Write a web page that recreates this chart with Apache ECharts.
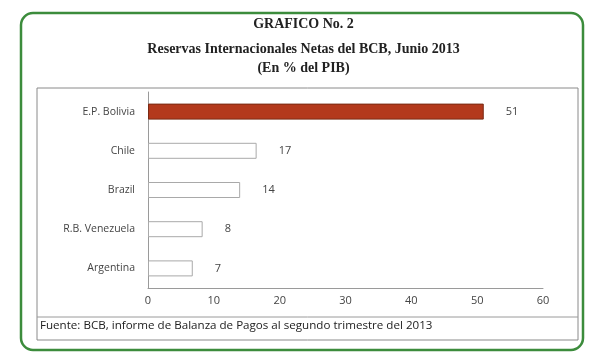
<!DOCTYPE html>
<html>
<head>
<meta charset="utf-8">
<script src="https://cdn.jsdelivr.net/npm/echarts@6/dist/echarts.min.js"></script>
<style>
  html, body { margin: 0; padding: 0; background: #fff; }
  #main { width: 607px; height: 355px; }
</style>
</head>
<body>
<div id="main"></div>
<script>
// datos
var paises = ['Argentina', 'R.B. Venezuela', 'Brazil', 'Chile', 'E.P. Bolivia'];
var reservas = [6.8, 8.3, 14, 16.5, 51];
var etiquetas = ['7', '8', '14', '17', '51'];
var ticksX = [0, 10, 20, 30, 40, 50, 60];

var chart = echarts.init(document.getElementById('main'));

var barras = reservas.map(function (v, i) {
  var esBolivia = paises[i] === 'E.P. Bolivia';
  return {
    value: v,
    itemStyle: esBolivia
      ? { color: '#b3391c', borderColor: '#7a2a14', borderWidth: 1 }
      : { color: '#ffffff', borderColor: '#a9a9a9', borderWidth: 1 }
  };
});

var tituloStyle = {
  fontFamily: 'Liberation Serif',
  fontWeight: 'bold',
  fontSize: 14,
  color: '#222'
};

var option = {
  backgroundColor: '#fff',
  title: [
    { text: 'GRAFICO No. 2', left: 'center', top: 12, textStyle: tituloStyle },
    { text: 'Reservas Internacionales Netas del BCB, Junio 2013', left: 'center', top: 37, textStyle: tituloStyle },
    { text: '(En % del PIB)', left: 'center', top: 56, textStyle: tituloStyle }
  ],
  grid: { left: 148, right: 64, top: 92, bottom: 67, containLabel: false },
  xAxis: {
    type: 'value',
    min: 0,
    max: 60,
    interval: 10,
    axisLine: { show: true, lineStyle: { color: '#9a9a9a' } },
    axisTick: { show: false },
    splitLine: { show: false },
    axisLabel: {
      color: '#444',
      fontFamily: 'Open Sans',
      fontSize: 11,
      margin: 7,
      formatter: function (v) { return ticksX.indexOf(v) >= 0 ? String(v) : ''; }
    }
  },
  yAxis: {
    type: 'category',
    data: paises,
    axisLine: { show: true, lineStyle: { color: '#9a9a9a' } },
    axisTick: { show: false },
    axisLabel: {
      color: '#444',
      fontFamily: 'Open Sans',
      fontSize: 10.5,
      margin: 13
    }
  },
  series: [{
    type: 'bar',
    data: barras,
    barWidth: 16,
    label: {
      show: true,
      position: 'right',
      distance: 22,
      color: '#444',
      fontFamily: 'Open Sans',
      fontSize: 11,
      formatter: function (p) { return etiquetas[p.dataIndex]; }
    }
  }],
  graphic: [
    {
      type: 'rect',
      shape: { x: 21, y: 13, width: 562, height: 337, r: 12 },
      style: { fill: 'none', stroke: '#3c8c3c', lineWidth: 2.5 },
      silent: true
    },
    {
      type: 'rect',
      shape: { x: 37, y: 88, width: 541, height: 252 },
      style: { fill: 'none', stroke: '#8a8a8a', lineWidth: 1 },
      silent: true
    },
    {
      type: 'line',
      shape: { x1: 37, y1: 317, x2: 578, y2: 317 },
      style: { stroke: '#9a9a9a', lineWidth: 1 },
      silent: true
    },
    {
      type: 'text',
      left: 40,
      top: 320,
      style: {
        text: 'Fuente: BCB, informe de Balanza de Pagos al segundo trimestre del 2013',
        font: '11.6px "Open Sans"',
        fill: '#222'
      },
      silent: true
    }
  ]
};

chart.setOption(option);
</script>
</body>
</html>
